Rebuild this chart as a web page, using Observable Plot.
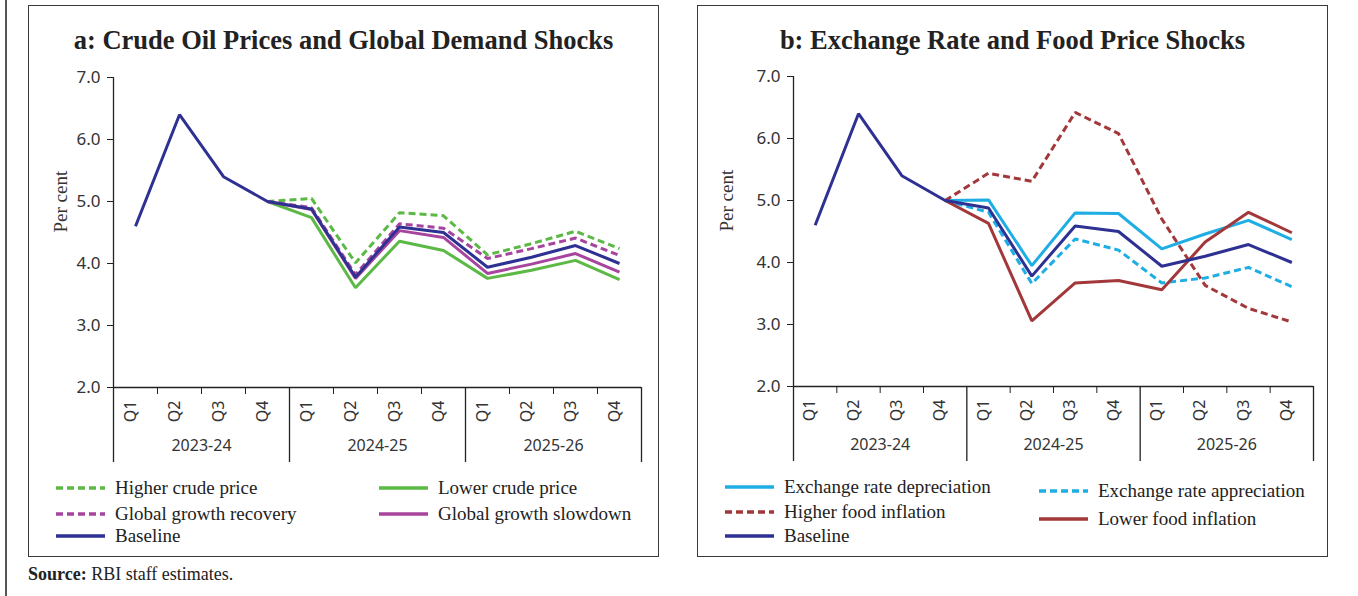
<!DOCTYPE html>
<html><head><meta charset="utf-8">
<script src="https://cdn.jsdelivr.net/npm/d3@7"></script>
<script src="https://cdn.jsdelivr.net/npm/@observablehq/plot@0.6"></script>
<style>
body{margin:0;background:#fff;width:1358px;height:596px;position:relative;overflow:hidden;font-family:"Liberation Serif",serif;color:#222;}
.pageline{position:absolute;left:5px;top:0;width:1.5px;height:596px;background:#555;}
.panel{position:absolute;top:5px;width:631px;height:552px;border:1.5px solid #3a3a3a;box-sizing:border-box;}
.title{position:absolute;top:24px;width:631px;text-align:center;font:bold 26.5px "Liberation Serif",serif;color:#222;line-height:32px;}
.chart{position:absolute;top:60px;}
.leg{position:absolute;display:flex;align-items:center;font:19px "Liberation Serif",serif;color:#222;white-space:nowrap;height:22px;}
.leg svg{margin-right:10px;}
.source{position:absolute;left:28px;top:564px;font:18px "Liberation Serif",serif;color:#222;}
</style></head>
<body>
<div class="pageline"></div>
<div class="panel" style="left:28px"></div>
<div class="panel" style="left:697px"></div>
<div class="title" style="left:28px">a: Crude Oil Prices and Global Demand Shocks</div>
<div class="title" style="left:697px">b: Exchange Rate and Food Price Shocks</div>
<div id="chartA" class="chart" style="left:28px"></div>
<div id="chartB" class="chart" style="left:697px"></div>
<div id="legA"></div>
<div id="legB"></div>
<div class="source"><b>Source:</b> RBI staff estimates.</div>
<script>
// ---- data ----
const quarters = ["Q1","Q2","Q3","Q4","Q1","Q2","Q3","Q4","Q1","Q2","Q3","Q4"];
const years = ["2023-24","2024-25","2025-26"];
const yTicks = [2,3,4,5,6,7];

const baseline            = [4.6, 6.4, 5.4, 5.0, 4.88, 3.78, 4.59, 4.50, 3.94, 4.10, 4.29, 4.00];
const higherCrude         = [null, null, null, 5.0, 5.05, 4.01, 4.82, 4.77, 4.14, 4.32, 4.52, 4.24];
const lowerCrude          = [null, null, null, 5.0, 4.74, 3.61, 4.36, 4.21, 3.76, 3.89, 4.05, 3.74];
const growthRecovery      = [null, null, null, 5.0, 4.90, 3.82, 4.64, 4.57, 4.08, 4.24, 4.41, 4.13];
const growthSlowdown      = [null, null, null, 5.0, 4.87, 3.76, 4.53, 4.42, 3.84, 3.99, 4.16, 3.86];

const erDepreciation      = [null, null, null, 5.0, 5.01, 3.95, 4.80, 4.79, 4.22, 4.46, 4.68, 4.37];
const erAppreciation      = [null, null, null, 5.0, 4.81, 3.66, 4.38, 4.20, 3.67, 3.75, 3.92, 3.61];
const higherFood          = [null, null, null, 5.0, 5.44, 5.31, 6.42, 6.08, 4.70, 3.63, 3.26, 3.04];
const lowerFood           = [null, null, null, 5.0, 4.63, 3.06, 3.67, 3.71, 3.56, 4.33, 4.81, 4.48];

const C = {blue:"#2e3192", green:"#5cb946", magenta:"#a7459e", cyan:"#1eaee4", red:"#a2383a"};
const DASH = "7,4";

const seriesA = [
  {name:"Higher crude price", values:higherCrude, color:C.green, dash:DASH},
  {name:"Lower crude price", values:lowerCrude, color:C.green, dash:null},
  {name:"Global growth recovery", values:growthRecovery, color:C.magenta, dash:DASH},
  {name:"Global growth slowdown", values:growthSlowdown, color:C.magenta, dash:null},
  {name:"Baseline", values:baseline, color:C.blue, dash:null}
];
const seriesB = [
  {name:"Exchange rate depreciation", values:erDepreciation, color:C.cyan, dash:null},
  {name:"Exchange rate appreciation", values:erAppreciation, color:C.cyan, dash:DASH},
  {name:"Higher food inflation", values:higherFood, color:C.red, dash:DASH},
  {name:"Lower food inflation", values:lowerFood, color:C.red, dash:null},
  {name:"Baseline", values:baseline, color:C.blue, dash:null}
];

const sansFont = "'Noto Sans', 'Open Sans', sans-serif";

function makeChart(series, m) {
  const qRows = quarters.map((q,i)=>({q, x:i+0.5}));
  const yRows = years.map((y,i)=>({y, x:i*4+2}));
  const innerTicks = d3.range(1,12).filter(i=>i%4!==0);
  const sepTicks = [0,4,8,12];
  const marks = [
    Plot.ruleY([2], {stroke:"#222", strokeWidth:1.3}),
    Plot.ruleX([0], {stroke:"#222", strokeWidth:1.3}),
    Plot.axisY({ticks:yTicks, tickFormat:d3.format(".1f"), tickSize:6, tickPadding:7, fontSize:17, fontFamily:sansFont, stroke:"#222", color:"#333", label:null}),
    Plot.axisX({ticks:innerTicks, tickSize:7, tickFormat:()=>"", stroke:"#222", label:null}),
    Plot.axisX({ticks:sepTicks, tickSize:75, tickFormat:()=>"", stroke:"#222", strokeWidth:1.3, label:null}),
    Plot.text(qRows, {x:"x", text:"q", frameAnchor:"bottom", dy:24, rotate:-90, fontSize:16, fontFamily:sansFont, fill:"#333"}),
    Plot.text(yRows, {x:"x", text:"y", frameAnchor:"bottom", dy:63, fontSize:16, fontFamily:sansFont, fill:"#333"}),
    Plot.text(["Per cent"], {frameAnchor:"left", dx:m.labelDx, rotate:-90, fontSize:19, fontFamily:"'Liberation Serif', serif", fill:"#333"})
  ];
  for (const s of series) {
    const rows = s.values.map((v,i)=>({x:i+0.5, v})).filter(d=>d.v!=null);
    marks.push(Plot.line(rows, {x:"x", y:"v", stroke:s.color, strokeWidth:3, strokeDasharray:s.dash || undefined, strokeLinejoin:"miter", strokeLinecap:"butt"}));
  }
  return Plot.plot({
    width:631, height:410,
    marginLeft:m.left, marginRight:m.right, marginTop:m.top, marginBottom:m.bottom,
    x:{domain:[0,12], axis:null, label:null},
    y:{domain:[2,7], axis:null, label:null},
    style:{background:"transparent", overflow:"visible"},
    marks
  });
}

document.getElementById("chartA").append(makeChart(seriesA, {left:85, right:18, top:17, bottom:83, labelDx:-53}));
document.getElementById("chartB").append(makeChart(seriesB, {left:96, right:15, top:16, bottom:84, labelDx:-67}));

function swatch(s) {
  const dash = s.dash ? `stroke-dasharray="${s.dash}"` : "";
  return `<svg width="49" height="6"><line x1="0" y1="3" x2="49" y2="3" stroke="${s.color}" stroke-width="3.5" ${dash}/></svg>`;
}
function legend(el, series, pos) {
  series.forEach((s,i)=>{
    const d = document.createElement("div");
    d.className = "leg";
    d.style.left = pos[i][0]+"px";
    d.style.top = (pos[i][1]-11)+"px";
    d.innerHTML = swatch(s) + `<span>${s.name}</span>`;
    el.append(d);
  });
}
legend(document.getElementById("legA"), seriesA, [[56,488],[379,488],[56,514],[379,514],[56,536]]);
legend(document.getElementById("legB"), seriesB, [[725,487],[1039,491],[725,512],[1039,519],[725,536]]);
</script>
</body></html>
